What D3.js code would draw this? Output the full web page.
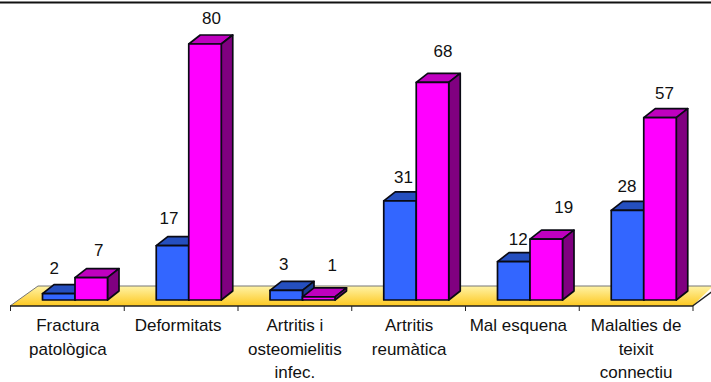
<!DOCTYPE html>
<html><head><meta charset="utf-8">
<style>html,body{margin:0;padding:0;background:#fff}svg{display:block}text{font-family:"Liberation Sans",Arial,sans-serif;fill:#111}</style>
<script src="https://cdn.jsdelivr.net/npm/d3@7"></script></head><body>
<script>
const categories = ["Fractura patològica","Deformitats","Artritis i osteomielitis infec.","Artritis reumàtica","Mal esquena","Malalties de teixit connectiu"];
const categoryLines = [["Fractura","patològica"],["Deformitats"],["Artritis i","osteomielitis","infec."],["Artritis","reumàtica"],["Mal esquena"],["Malalties de","teixit","connectiu"]];
const seriesA = [2,17,3,31,12,28];
const seriesB = [7,80,1,68,19,57];
// hand-placed label offsets in the original chart
const nudgeA = [[-4,25],[-3,27],[-2,26],[4,23],[5,22],[0,24]];
const nudgeB = [[8,27],[7,26],[14,31],[11,31],[18,32],[5,24]];
const nudgeCat = [1,-2.5,0.5,1,-3.5,0.5];

const W=711,H=382;
const baseY=300, floorFront=306, floorBack=286, dx=11.5, dy=9;
const svg=d3.select("body").append("svg").attr("width",W).attr("height",H);
const x=d3.scaleBand().domain(categories).range([10,692.5]);
const y=d3.scaleLinear().domain([0,80]).range([baseY,44]);
const barW=32.5, barOff=32.5;

const defs=svg.append("defs");
const g=defs.append("linearGradient").attr("id","floor").attr("x1",0).attr("x2",0).attr("y1",0).attr("y2",1);
g.append("stop").attr("offset",0).attr("stop-color","#fff3a6");
g.append("stop").attr("offset",1).attr("stop-color","#fdc820");

svg.append("line").attr("x1",0).attr("x2",W).attr("y1",2.5).attr("y2",2.5).attr("stroke","#111").attr("stroke-width",2);

svg.append("path").attr("d",`M10,${floorFront}L38,${floorBack}L${W+2},${floorBack}L692.5,${floorFront}Z`)
  .attr("fill","url(#floor)").attr("stroke","none");
svg.append("path").attr("d",`M10,${floorFront}L38,${floorBack}L${W+2},${floorBack}`).attr("fill","none").attr("stroke","#777").attr("stroke-width",1);
svg.append("path").attr("d",`M10,${floorFront}L692.5,${floorFront}L${W+2},${floorBack+5}`).attr("fill","none").attr("stroke","#222").attr("stroke-width",1.4);

const ticks=categories.map(c=>x(c)).concat([x.range()[1]]);
svg.selectAll(".tick").data(ticks).join("line").attr("x1",d=>d+.5).attr("x2",d=>d+.5).attr("y1",floorFront).attr("y2",floorFront+5).attr("stroke","#222");

function bar(px,v,cols){
  const top=y(v), o="#0a0a14";
  const gb=svg.append("g").attr("stroke",o).attr("stroke-width",1.7).attr("stroke-linejoin","round");
  gb.append("path").attr("d",`M${px},${top}l${dx},${-dy}h${barW}l${-dx},${dy}z`).attr("fill",cols[1]);
  gb.append("path").attr("d",`M${px+barW},${top}l${dx},${-dy}V${baseY-dy}l${-dx},${dy}z`).attr("fill",cols[2]);
  gb.append("rect").attr("x",px).attr("y",top).attr("width",barW).attr("height",baseY-top).attr("fill",cols[0]);
}
const blue=["#3366ff","#254fbf","#1c3c90"], pink=["#ff00ff","#bf00bf","#800080"];
categories.forEach((c,i)=>{
  const a=x(c)+barOff, b=a+barW;
  bar(a,seriesA[i],blue);
  bar(b,seriesB[i],pink);
  svg.append("text").attr("x",a+barW/2+nudgeA[i][0]-.5).attr("y",y(seriesA[i])-nudgeA[i][1]).attr("text-anchor","middle").attr("dominant-baseline","central").attr("font-size",17).text(seriesA[i]);
  svg.append("text").attr("x",b+barW/2+nudgeB[i][0]-.5).attr("y",y(seriesB[i])-nudgeB[i][1]).attr("text-anchor","middle").attr("dominant-baseline","central").attr("font-size",17).text(seriesB[i]);
  const t=svg.append("text").attr("text-anchor","middle").attr("font-size",17);
  categoryLines[i].forEach((ln,j)=>t.append("tspan").attr("x",x(c)+x.bandwidth()/2+nudgeCat[i]).attr("y",331+j*23.5).text(ln));
});
</script></body></html>
